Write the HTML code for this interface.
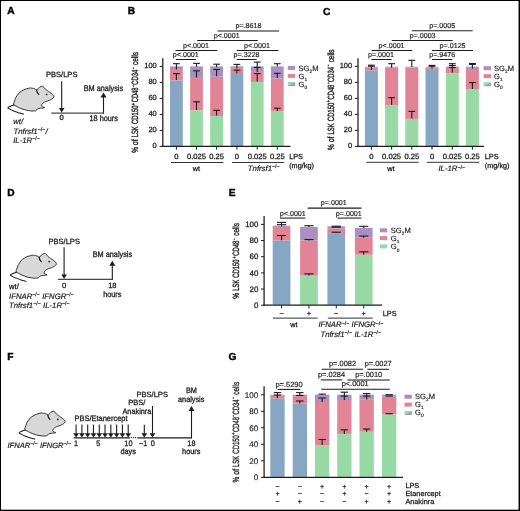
<!DOCTYPE html>
<html><head><meta charset="utf-8"><title>Figure</title>
<style>html,body{margin:0;padding:0;background:#fff;}svg{display:block;}text{font-family:"Liberation Sans",sans-serif;fill:#1c1c1c;stroke:#1c1c1c;stroke-width:0.27px;text-rendering:geometricPrecision;}</style></head><body>
<svg width="520" height="511" viewBox="0 0 520 511">
<rect x="0" y="0" width="520" height="511" fill="#fff"/>
<rect x="0" y="0" width="520" height="1" fill="#000"/>
<rect x="0" y="0" width="1" height="511" fill="#000"/>
<rect x="518.55" y="0" width="1.45" height="511" fill="#000"/>
<rect x="0" y="509.7" width="520" height="1.3" fill="#000"/>
<defs><filter id="soft" x="0" y="0" width="520" height="511" filterUnits="userSpaceOnUse"><feGaussianBlur stdDeviation="0.33"/></filter></defs>
<g filter="url(#soft)">
<text x="7.25" y="14.4" font-size="10.2" text-anchor="start" font-weight="bold" style="fill:#000;stroke:#000;stroke-width:0.45px">A</text>
<text x="127.65" y="14.4" font-size="10.2" text-anchor="start" font-weight="bold" style="fill:#000;stroke:#000;stroke-width:0.45px">B</text>
<text x="322.95" y="14.6" font-size="10.2" text-anchor="start" font-weight="bold" style="fill:#000;stroke:#000;stroke-width:0.45px">C</text>
<text x="7.25" y="195.9" font-size="10.2" text-anchor="start" font-weight="bold" style="fill:#000;stroke:#000;stroke-width:0.45px">D</text>
<text x="228.85" y="195.6" font-size="10.2" text-anchor="start" font-weight="bold" style="fill:#000;stroke:#000;stroke-width:0.45px">E</text>
<text x="7.25" y="359.7" font-size="10.2" text-anchor="start" font-weight="bold" style="fill:#000;stroke:#000;stroke-width:0.45px">F</text>
<text x="228.55" y="359.7" font-size="10.2" text-anchor="start" font-weight="bold" style="fill:#000;stroke:#000;stroke-width:0.45px">G</text>
<g transform="translate(0,0)">
<path d="M41.90,86.30 C42.95,86.19 42.63,86.39 43.40,86.90 C44.16,87.41 44.01,87.42 44.60,88.10 C45.20,88.78 44.73,88.59 45.50,89.30 C46.27,90.01 46.20,89.81 47.30,90.60 C48.40,91.39 47.98,91.02 49.40,92.10 C50.82,93.18 51.05,93.27 52.30,94.40 C53.55,95.53 53.46,95.19 53.80,96.10 C54.14,97.01 54.07,96.78 53.50,97.60 C52.93,98.42 53.10,98.18 51.80,99.00 C50.50,99.82 50.71,99.73 48.90,100.50 C47.09,101.27 47.04,100.96 45.40,101.70 C43.76,102.44 44.15,102.22 43.10,103.10 C42.05,103.98 42.04,103.86 41.70,104.80 C41.36,105.73 41.48,105.78 41.90,106.40 C42.32,107.02 42.44,106.63 43.20,107.00 C43.97,107.37 44.77,107.39 44.60,107.70 C44.43,108.01 43.79,107.93 42.60,108.10 C41.41,108.27 41.76,108.10 40.40,108.30 C39.04,108.50 38.93,108.29 37.80,108.80 C36.67,109.31 37.36,109.50 36.40,110.10 C35.44,110.69 36.58,110.76 34.40,110.90 C32.22,111.04 32.27,111.19 28.70,110.60 C25.13,110.00 25.43,110.10 21.80,108.80 C18.17,107.50 18.17,107.13 15.90,106.00 C13.63,104.87 14.17,106.27 13.80,104.80 C13.43,103.33 13.66,103.41 14.60,100.80 C15.54,98.19 15.06,98.38 17.10,95.60 C19.14,92.82 18.51,93.07 21.80,91.00 C25.09,88.93 25.81,89.09 28.70,88.30 C31.59,87.51 30.33,88.06 32.00,88.20 C33.67,88.34 33.21,88.29 34.60,88.80 C35.99,89.31 35.88,90.06 36.90,90.00 C37.92,89.94 37.41,89.36 38.20,88.60 C38.99,87.83 38.65,87.95 39.70,87.30 C40.75,86.65 40.85,86.41 41.90,86.30 Z" fill="#d8d8d9" stroke="#1c1c1c" stroke-width="0.9" stroke-linejoin="round"/>
<path d="M13.80,104.90 C13.05,105.23 11.98,105.62 10.60,106.30 C9.22,106.98 7.95,107.08 7.90,107.80 C7.85,108.52 9.05,108.68 10.40,109.40 C11.75,110.12 11.81,110.13 13.70,110.90 C15.59,111.67 16.21,111.95 18.50,112.70 C20.79,113.45 22.33,113.77 23.50,114.10" fill="none" stroke="#1c1c1c" stroke-width="1.05" stroke-linecap="round" stroke-linejoin="round"/>
<path d="M36.6,90.0 C36.7,91.6 37.5,93.2 38.8,94.4" fill="none" stroke="#161616" stroke-width="1.2" stroke-linecap="round"/>
<circle cx="46.6" cy="94.4" r="0.85" fill="#1a1a1a"/>
</g>
<text x="61.7" y="77.2" font-size="7.55" text-anchor="middle">PBS/LPS</text>
<line x1="61.7" y1="81.3" x2="61.7" y2="108.6" stroke="#1c1c1c" stroke-width="1.1"/>
<polygon points="58.9,108.1 64.5,108.1 61.7,112.6" fill="#1c1c1c"/>
<line x1="51.3" y1="113.1" x2="104" y2="113.1" stroke="#1c1c1c" stroke-width="1"/>
<line x1="103.5" y1="113.5" x2="103.5" y2="97" stroke="#1c1c1c" stroke-width="1.1"/>
<polygon points="100.5,97.5 106.5,97.5 103.5,92.5" fill="#1c1c1c"/>
<text transform="translate(103.4,91.2) scale(1,1.13)" font-size="7.3" text-anchor="middle">BM analysis</text>
<text x="61.7" y="120.4" font-size="7.6" text-anchor="middle">0</text>
<text transform="translate(103.7,120.7) scale(1,1.13)" font-size="7.3" text-anchor="middle">18 hours</text>
<text x="13.2" y="123.6" font-size="7.75" text-anchor="start" font-style="italic" style="stroke-width:0.2px">wt/</text>
<text x="13.5" y="133.7" font-size="7.75" text-anchor="start" font-style="italic" style="stroke-width:0.2px">Tnfrsf1<tspan font-size="5.3" dy="-2.7" font-style="normal">−/−</tspan><tspan dy="2.7" font-size="1"> </tspan>/</text>
<text x="13.2" y="142.9" font-size="7.75" text-anchor="start" font-style="italic" style="stroke-width:0.2px">IL-1R<tspan font-size="5.3" dy="-2.7" font-style="normal">−/−</tspan><tspan dy="2.7" font-size="1"> </tspan></text>
<g transform="translate(2.5,167.2)">
<path d="M41.90,86.30 C42.95,86.19 42.63,86.39 43.40,86.90 C44.16,87.41 44.01,87.42 44.60,88.10 C45.20,88.78 44.73,88.59 45.50,89.30 C46.27,90.01 46.20,89.81 47.30,90.60 C48.40,91.39 47.98,91.02 49.40,92.10 C50.82,93.18 51.05,93.27 52.30,94.40 C53.55,95.53 53.46,95.19 53.80,96.10 C54.14,97.01 54.07,96.78 53.50,97.60 C52.93,98.42 53.10,98.18 51.80,99.00 C50.50,99.82 50.71,99.73 48.90,100.50 C47.09,101.27 47.04,100.96 45.40,101.70 C43.76,102.44 44.15,102.22 43.10,103.10 C42.05,103.98 42.04,103.86 41.70,104.80 C41.36,105.73 41.48,105.78 41.90,106.40 C42.32,107.02 42.44,106.63 43.20,107.00 C43.97,107.37 44.77,107.39 44.60,107.70 C44.43,108.01 43.79,107.93 42.60,108.10 C41.41,108.27 41.76,108.10 40.40,108.30 C39.04,108.50 38.93,108.29 37.80,108.80 C36.67,109.31 37.36,109.50 36.40,110.10 C35.44,110.69 36.58,110.76 34.40,110.90 C32.22,111.04 32.27,111.19 28.70,110.60 C25.13,110.00 25.43,110.10 21.80,108.80 C18.17,107.50 18.17,107.13 15.90,106.00 C13.63,104.87 14.17,106.27 13.80,104.80 C13.43,103.33 13.66,103.41 14.60,100.80 C15.54,98.19 15.06,98.38 17.10,95.60 C19.14,92.82 18.51,93.07 21.80,91.00 C25.09,88.93 25.81,89.09 28.70,88.30 C31.59,87.51 30.33,88.06 32.00,88.20 C33.67,88.34 33.21,88.29 34.60,88.80 C35.99,89.31 35.88,90.06 36.90,90.00 C37.92,89.94 37.41,89.36 38.20,88.60 C38.99,87.83 38.65,87.95 39.70,87.30 C40.75,86.65 40.85,86.41 41.90,86.30 Z" fill="#d8d8d9" stroke="#1c1c1c" stroke-width="0.9" stroke-linejoin="round"/>
<path d="M13.80,104.90 C13.05,105.23 11.98,105.62 10.60,106.30 C9.22,106.98 7.95,107.08 7.90,107.80 C7.85,108.52 9.05,108.68 10.40,109.40 C11.75,110.12 11.81,110.13 13.70,110.90 C15.59,111.67 16.21,111.95 18.50,112.70 C20.79,113.45 22.33,113.77 23.50,114.10" fill="none" stroke="#1c1c1c" stroke-width="1.05" stroke-linecap="round" stroke-linejoin="round"/>
<path d="M36.6,90.0 C36.7,91.6 37.5,93.2 38.8,94.4" fill="none" stroke="#161616" stroke-width="1.2" stroke-linecap="round"/>
<circle cx="46.6" cy="94.4" r="0.85" fill="#1a1a1a"/>
</g>
<text x="64.2" y="244.4" font-size="7.55" text-anchor="middle">PBS/LPS</text>
<line x1="64.1" y1="247.2" x2="64.1" y2="275" stroke="#1c1c1c" stroke-width="1.1"/>
<polygon points="61.3,274.5 66.9,274.5 64.1,279" fill="#1c1c1c"/>
<line x1="57.9" y1="279.3" x2="112.8" y2="279.3" stroke="#1c1c1c" stroke-width="1"/>
<line x1="112.3" y1="279.7" x2="112.3" y2="265.3" stroke="#1c1c1c" stroke-width="1.1"/>
<polygon points="109.3,265.8 115.3,265.8 112.3,260.8" fill="#1c1c1c"/>
<text transform="translate(112.4,257.2) scale(1,1.12)" font-size="7.3" text-anchor="middle">BM analysis</text>
<text x="64.1" y="287.5" font-size="7.5" text-anchor="middle">0</text>
<text x="112.3" y="287.5" font-size="7.5" text-anchor="middle">18</text>
<text transform="translate(112.3,297) scale(1,1.1)" font-size="7.3" text-anchor="middle">hours</text>
<text x="9.1" y="289" font-size="7.6" text-anchor="start">wt/</text>
<text x="9" y="298.5" font-size="7.75" text-anchor="start" font-style="italic" style="stroke-width:0.2px">IFNAR<tspan font-size="5.3" dy="-2.7" font-style="normal">−/−</tspan><tspan dy="2.7" font-size="1"> </tspan> IFNGR<tspan font-size="5.3" dy="-2.7" font-style="normal">−/−</tspan><tspan dy="2.7" font-size="1"> </tspan></text>
<text x="9" y="307.9" font-size="7.75" text-anchor="start" font-style="italic" style="stroke-width:0.2px">Tnfrsf1<tspan font-size="5.3" dy="-2.7" font-style="normal">−/−</tspan><tspan dy="2.7" font-size="1"> </tspan> IL-1R<tspan font-size="5.3" dy="-2.7" font-style="normal">−/−</tspan><tspan dy="2.7" font-size="1"> </tspan></text>
<g transform="translate(11.2,325)">
<path d="M41.90,86.30 C42.95,86.19 42.63,86.39 43.40,86.90 C44.16,87.41 44.01,87.42 44.60,88.10 C45.20,88.78 44.73,88.59 45.50,89.30 C46.27,90.01 46.20,89.81 47.30,90.60 C48.40,91.39 47.98,91.02 49.40,92.10 C50.82,93.18 51.05,93.27 52.30,94.40 C53.55,95.53 53.46,95.19 53.80,96.10 C54.14,97.01 54.07,96.78 53.50,97.60 C52.93,98.42 53.10,98.18 51.80,99.00 C50.50,99.82 50.71,99.73 48.90,100.50 C47.09,101.27 47.04,100.96 45.40,101.70 C43.76,102.44 44.15,102.22 43.10,103.10 C42.05,103.98 42.04,103.86 41.70,104.80 C41.36,105.73 41.48,105.78 41.90,106.40 C42.32,107.02 42.44,106.63 43.20,107.00 C43.97,107.37 44.77,107.39 44.60,107.70 C44.43,108.01 43.79,107.93 42.60,108.10 C41.41,108.27 41.76,108.10 40.40,108.30 C39.04,108.50 38.93,108.29 37.80,108.80 C36.67,109.31 37.36,109.50 36.40,110.10 C35.44,110.69 36.58,110.76 34.40,110.90 C32.22,111.04 32.27,111.19 28.70,110.60 C25.13,110.00 25.43,110.10 21.80,108.80 C18.17,107.50 18.17,107.13 15.90,106.00 C13.63,104.87 14.17,106.27 13.80,104.80 C13.43,103.33 13.66,103.41 14.60,100.80 C15.54,98.19 15.06,98.38 17.10,95.60 C19.14,92.82 18.51,93.07 21.80,91.00 C25.09,88.93 25.81,89.09 28.70,88.30 C31.59,87.51 30.33,88.06 32.00,88.20 C33.67,88.34 33.21,88.29 34.60,88.80 C35.99,89.31 35.88,90.06 36.90,90.00 C37.92,89.94 37.41,89.36 38.20,88.60 C38.99,87.83 38.65,87.95 39.70,87.30 C40.75,86.65 40.85,86.41 41.90,86.30 Z" fill="#d8d8d9" stroke="#1c1c1c" stroke-width="0.9" stroke-linejoin="round"/>
<path d="M13.80,104.90 C13.05,105.23 11.98,105.62 10.60,106.30 C9.22,106.98 7.95,107.08 7.90,107.80 C7.85,108.52 9.05,108.68 10.40,109.40 C11.75,110.12 11.81,110.13 13.70,110.90 C15.59,111.67 16.21,111.95 18.50,112.70 C20.79,113.45 22.33,113.77 23.50,114.10" fill="none" stroke="#1c1c1c" stroke-width="1.05" stroke-linecap="round" stroke-linejoin="round"/>
<path d="M36.6,90.0 C36.7,91.6 37.5,93.2 38.8,94.4" fill="none" stroke="#161616" stroke-width="1.2" stroke-linecap="round"/>
<circle cx="46.6" cy="94.4" r="0.85" fill="#1a1a1a"/>
</g>
<text x="7.5" y="447.6" font-size="7.55" text-anchor="start" font-style="italic" style="stroke-width:0.2px">IFNAR<tspan font-size="5.3" dy="-2.7" font-style="normal">−/−</tspan><tspan dy="2.7" font-size="1"> </tspan> IFNGR<tspan font-size="5.3" dy="-2.7" font-style="normal">−/−</tspan><tspan dy="2.7" font-size="1"> </tspan></text>
<text transform="translate(101,420.7) scale(1,1.06)" font-size="7.45" text-anchor="middle">PBS/Etanercept</text>
<line x1="76.1" y1="424.6" x2="76.1" y2="433.7" stroke="#1c1c1c" stroke-width="1.1"/>
<polygon points="73.2,433.2 79,433.2 76.1,437.6" fill="#1c1c1c"/>
<line x1="81.89" y1="424.6" x2="81.89" y2="433.7" stroke="#1c1c1c" stroke-width="1.1"/>
<polygon points="78.99,433.2 84.79,433.2 81.89,437.6" fill="#1c1c1c"/>
<line x1="87.68" y1="424.6" x2="87.68" y2="433.7" stroke="#1c1c1c" stroke-width="1.1"/>
<polygon points="84.78,433.2 90.58,433.2 87.68,437.6" fill="#1c1c1c"/>
<line x1="93.47" y1="424.6" x2="93.47" y2="433.7" stroke="#1c1c1c" stroke-width="1.1"/>
<polygon points="90.57,433.2 96.37,433.2 93.47,437.6" fill="#1c1c1c"/>
<line x1="99.26" y1="424.6" x2="99.26" y2="433.7" stroke="#1c1c1c" stroke-width="1.1"/>
<polygon points="96.36,433.2 102.16,433.2 99.26,437.6" fill="#1c1c1c"/>
<line x1="105.05" y1="424.6" x2="105.05" y2="433.7" stroke="#1c1c1c" stroke-width="1.1"/>
<polygon points="102.15,433.2 107.95,433.2 105.05,437.6" fill="#1c1c1c"/>
<line x1="110.84" y1="424.6" x2="110.84" y2="433.7" stroke="#1c1c1c" stroke-width="1.1"/>
<polygon points="107.94,433.2 113.74,433.2 110.84,437.6" fill="#1c1c1c"/>
<line x1="116.63" y1="424.6" x2="116.63" y2="433.7" stroke="#1c1c1c" stroke-width="1.1"/>
<polygon points="113.73,433.2 119.53,433.2 116.63,437.6" fill="#1c1c1c"/>
<line x1="122.42" y1="424.6" x2="122.42" y2="433.7" stroke="#1c1c1c" stroke-width="1.1"/>
<polygon points="119.52,433.2 125.32,433.2 122.42,437.6" fill="#1c1c1c"/>
<line x1="128.21" y1="424.6" x2="128.21" y2="433.7" stroke="#1c1c1c" stroke-width="1.1"/>
<polygon points="125.31,433.2 131.11,433.2 128.21,437.6" fill="#1c1c1c"/>
<line x1="73.8" y1="437.8" x2="130.2" y2="437.8" stroke="#1c1c1c" stroke-width="1.3"/>
<circle cx="131.6" cy="437.7" r="0.62" fill="#1c1c1c"/>
<circle cx="133.6" cy="437.7" r="0.62" fill="#1c1c1c"/>
<circle cx="135.6" cy="437.7" r="0.62" fill="#1c1c1c"/>
<line x1="137.4" y1="437.8" x2="192" y2="437.8" stroke="#1c1c1c" stroke-width="1.3"/>
<line x1="144.3" y1="424.8" x2="144.3" y2="433.7" stroke="#1c1c1c" stroke-width="1.1"/>
<polygon points="141.4,433.2 147.2,433.2 144.3,437.6" fill="#1c1c1c"/>
<line x1="152.5" y1="406" x2="152.5" y2="433.7" stroke="#1c1c1c" stroke-width="1.1"/>
<polygon points="149.6,433.2 155.4,433.2 152.5,437.6" fill="#1c1c1c"/>
<line x1="191.5" y1="438.2" x2="191.5" y2="410.5" stroke="#1c1c1c" stroke-width="1.1"/>
<polygon points="188.5,411 194.5,411 191.5,406" fill="#1c1c1c"/>
<text x="152.2" y="397.4" font-size="7.55" text-anchor="middle">PBS/LPS</text>
<text x="136.8" y="405.4" font-size="7.55" text-anchor="middle">PBS/</text>
<text transform="translate(136.9,414.1) scale(1,1.08)" font-size="7.3" text-anchor="middle">Anakinra</text>
<text transform="translate(191.4,392.8) scale(1,1.08)" font-size="7.3" text-anchor="middle">BM</text>
<text transform="translate(191.2,401.9) scale(1,1.1)" font-size="7.3" text-anchor="middle">analysis</text>
<text transform="translate(76.1,446.2) scale(1,1.08)" font-size="7.3" text-anchor="middle">1</text>
<text transform="translate(98.4,446.2) scale(1,1.08)" font-size="7.3" text-anchor="middle">5</text>
<text transform="translate(128.4,446.2) scale(1,1.08)" font-size="7.3" text-anchor="middle">10</text>
<text transform="translate(128.2,454.4) scale(1,1.08)" font-size="7.3" text-anchor="middle">days</text>
<text transform="translate(143.2,446.2) scale(1,1.08)" font-size="7.3" text-anchor="middle">−1</text>
<text transform="translate(152.8,446.2) scale(1,1.08)" font-size="7.3" text-anchor="middle">0</text>
<text transform="translate(191.4,446.2) scale(1,1.08)" font-size="7.3" text-anchor="middle">18</text>
<text transform="translate(191.2,454.4) scale(1,1.08)" font-size="7.3" text-anchor="middle">hours</text>
<g transform="translate(138.45,152.8) rotate(-90)" style="stroke-width:0.38px">
<text x="0" y="0" font-size="9" style="stroke-width:0.38px" textLength="5.64" lengthAdjust="spacingAndGlyphs">%</text>
<text x="7.65" y="0" font-size="9" style="stroke-width:0.38px" textLength="5.84" lengthAdjust="spacingAndGlyphs">of</text>
<text x="15.51" y="0" font-size="9" style="stroke-width:0.38px" textLength="11.08" lengthAdjust="spacingAndGlyphs">LSK</text>
<text x="28.8" y="0" font-size="9" style="stroke-width:0.38px" textLength="18.53" lengthAdjust="spacingAndGlyphs">CD150</text>
<text x="47.63" y="-3.4" font-size="5.4" style="stroke-width:0.38px" textLength="2.22" lengthAdjust="spacingAndGlyphs">+</text>
<text x="50.55" y="0" font-size="9" style="stroke-width:0.38px" textLength="14.8" lengthAdjust="spacingAndGlyphs">CD48</text>
<text x="65.76" y="-3.4" font-size="5.4" style="stroke-width:0.38px" textLength="2.01" lengthAdjust="spacingAndGlyphs">−</text>
<text x="67.97" y="0" font-size="9" style="stroke-width:0.38px" textLength="15" lengthAdjust="spacingAndGlyphs">CD34</text>
<text x="83.48" y="-3.4" font-size="5.4" style="stroke-width:0.38px" textLength="2.01" lengthAdjust="spacingAndGlyphs">−</text>
<text x="87.71" y="0" font-size="9" style="stroke-width:0.38px" textLength="12.99" lengthAdjust="spacingAndGlyphs">cells</text>
</g>
<rect x="170" y="80.4" width="12.8" height="65.6" fill="#86a6c4"/>
<rect x="170" y="69.9" width="12.8" height="10.5" fill="#e18495"/>
<rect x="170" y="66.4" width="12.8" height="3.5" fill="#a990c1"/>
<rect x="190.1" y="110.3" width="12.8" height="35.7" fill="#98d9a6"/>
<rect x="190.1" y="78.1" width="12.8" height="32.2" fill="#e18495"/>
<rect x="190.1" y="66.4" width="12.8" height="11.7" fill="#a990c1"/>
<rect x="210.2" y="116" width="12.8" height="30" fill="#98d9a6"/>
<rect x="210.2" y="76.7" width="12.8" height="39.3" fill="#e18495"/>
<rect x="210.2" y="66.4" width="12.8" height="10.3" fill="#a990c1"/>
<rect x="230.5" y="74" width="12.8" height="72" fill="#86a6c4"/>
<rect x="230.5" y="68.2" width="12.8" height="5.8" fill="#e18495"/>
<rect x="230.5" y="66.4" width="12.8" height="1.8" fill="#a990c1"/>
<rect x="250.8" y="81.9" width="12.8" height="64.1" fill="#98d9a6"/>
<rect x="250.8" y="71.9" width="12.8" height="10" fill="#e18495"/>
<rect x="250.8" y="66.4" width="12.8" height="5.5" fill="#a990c1"/>
<rect x="270.9" y="111.4" width="12.8" height="34.6" fill="#98d9a6"/>
<rect x="270.9" y="78.5" width="12.8" height="32.9" fill="#e18495"/>
<rect x="270.9" y="66.4" width="12.8" height="12.1" fill="#a990c1"/>
<line x1="162.8" y1="58.3" x2="162.8" y2="147" stroke="#1c1c1c" stroke-width="1.25"/>
<line x1="162.2" y1="146.4" x2="290.4" y2="146.4" stroke="#1c1c1c" stroke-width="1.25"/>
<line x1="159.7" y1="146.4" x2="162.8" y2="146.4" stroke="#1c1c1c" stroke-width="1"/>
<text x="156.7" y="148.25" font-size="7.45" text-anchor="end">0</text>
<line x1="159.7" y1="130.4" x2="162.8" y2="130.4" stroke="#1c1c1c" stroke-width="1"/>
<text x="156.7" y="132.25" font-size="7.45" text-anchor="end">20</text>
<line x1="159.7" y1="114.4" x2="162.8" y2="114.4" stroke="#1c1c1c" stroke-width="1"/>
<text x="156.7" y="116.25" font-size="7.45" text-anchor="end">40</text>
<line x1="159.7" y1="98.4" x2="162.8" y2="98.4" stroke="#1c1c1c" stroke-width="1"/>
<text x="156.7" y="100.25" font-size="7.45" text-anchor="end">60</text>
<line x1="159.7" y1="82.4" x2="162.8" y2="82.4" stroke="#1c1c1c" stroke-width="1"/>
<text x="156.7" y="84.25" font-size="7.45" text-anchor="end">80</text>
<line x1="159.7" y1="66.4" x2="162.8" y2="66.4" stroke="#1c1c1c" stroke-width="1"/>
<text x="156.7" y="68.25" font-size="7.45" text-anchor="end">100</text>
<line x1="176.4" y1="146.4" x2="176.4" y2="149.6" stroke="#1c1c1c" stroke-width="1"/>
<line x1="196.5" y1="146.4" x2="196.5" y2="149.6" stroke="#1c1c1c" stroke-width="1"/>
<line x1="216.6" y1="146.4" x2="216.6" y2="149.6" stroke="#1c1c1c" stroke-width="1"/>
<line x1="236.9" y1="146.4" x2="236.9" y2="149.6" stroke="#1c1c1c" stroke-width="1"/>
<line x1="257.2" y1="146.4" x2="257.2" y2="149.6" stroke="#1c1c1c" stroke-width="1"/>
<line x1="277.3" y1="146.4" x2="277.3" y2="149.6" stroke="#1c1c1c" stroke-width="1"/>
<line x1="173" y1="63.7" x2="179.8" y2="63.7" stroke="#1c1c1c" stroke-width="1.1"/>
<line x1="176.4" y1="63.7" x2="176.4" y2="69.4" stroke="#1c1c1c" stroke-width="1.1"/>
<line x1="173" y1="73.6" x2="179.8" y2="73.6" stroke="#1c1c1c" stroke-width="1.1"/>
<line x1="176.4" y1="73.6" x2="176.4" y2="80" stroke="#1c1c1c" stroke-width="1.1"/>
<line x1="193.1" y1="63.4" x2="199.9" y2="63.4" stroke="#1c1c1c" stroke-width="1.1"/>
<line x1="196.5" y1="63.4" x2="196.5" y2="66.8" stroke="#1c1c1c" stroke-width="1.1"/>
<line x1="193.1" y1="70.8" x2="199.9" y2="70.8" stroke="#1c1c1c" stroke-width="1.1"/>
<line x1="196.5" y1="70.8" x2="196.5" y2="77.6" stroke="#1c1c1c" stroke-width="1.1"/>
<line x1="193.1" y1="101.8" x2="199.9" y2="101.8" stroke="#1c1c1c" stroke-width="1.1"/>
<line x1="196.5" y1="101.8" x2="196.5" y2="110" stroke="#1c1c1c" stroke-width="1.1"/>
<line x1="213.2" y1="64.2" x2="220" y2="64.2" stroke="#1c1c1c" stroke-width="1.1"/>
<line x1="216.6" y1="64.2" x2="216.6" y2="67" stroke="#1c1c1c" stroke-width="1.1"/>
<line x1="213.2" y1="69.5" x2="220" y2="69.5" stroke="#1c1c1c" stroke-width="1.1"/>
<line x1="216.6" y1="69.5" x2="216.6" y2="76.2" stroke="#1c1c1c" stroke-width="1.1"/>
<line x1="213.2" y1="110.3" x2="220" y2="110.3" stroke="#1c1c1c" stroke-width="1.1"/>
<line x1="216.6" y1="110.3" x2="216.6" y2="115.6" stroke="#1c1c1c" stroke-width="1.1"/>
<line x1="233.5" y1="64.4" x2="240.3" y2="64.4" stroke="#1c1c1c" stroke-width="1.1"/>
<line x1="236.9" y1="64.4" x2="236.9" y2="68.6" stroke="#1c1c1c" stroke-width="1.1"/>
<line x1="233.5" y1="70.1" x2="240.3" y2="70.1" stroke="#1c1c1c" stroke-width="1.1"/>
<line x1="236.9" y1="70.1" x2="236.9" y2="73.6" stroke="#1c1c1c" stroke-width="1.1"/>
<line x1="253.8" y1="62.1" x2="260.6" y2="62.1" stroke="#1c1c1c" stroke-width="1.1"/>
<line x1="257.2" y1="62.1" x2="257.2" y2="72" stroke="#1c1c1c" stroke-width="1.1"/>
<line x1="253.8" y1="67.4" x2="260.6" y2="67.4" stroke="#1c1c1c" stroke-width="1.1"/>
<line x1="253.8" y1="73.6" x2="260.6" y2="73.6" stroke="#1c1c1c" stroke-width="1.1"/>
<line x1="257.2" y1="73.6" x2="257.2" y2="81.4" stroke="#1c1c1c" stroke-width="1.1"/>
<line x1="273.9" y1="63.7" x2="280.7" y2="63.7" stroke="#1c1c1c" stroke-width="1.1"/>
<line x1="277.3" y1="63.7" x2="277.3" y2="66.6" stroke="#1c1c1c" stroke-width="1.1"/>
<line x1="273.9" y1="73.3" x2="280.7" y2="73.3" stroke="#1c1c1c" stroke-width="1.1"/>
<line x1="277.3" y1="73.3" x2="277.3" y2="78.1" stroke="#1c1c1c" stroke-width="1.1"/>
<line x1="273.9" y1="108.2" x2="280.7" y2="108.2" stroke="#1c1c1c" stroke-width="1.1"/>
<line x1="277.3" y1="108.2" x2="277.3" y2="111.1" stroke="#1c1c1c" stroke-width="1.1"/>
<text x="248.5" y="28" font-size="7.15" text-anchor="middle" style="stroke-width:0.17px">p=.8618</text>
<line x1="217.6" y1="31" x2="279" y2="31" stroke="#1c1c1c" stroke-width="1.05"/>
<text x="226.7" y="37.6" font-size="7.15" text-anchor="middle" style="stroke-width:0.17px">p&lt;.0001</text>
<line x1="197.2" y1="40.4" x2="257.8" y2="40.4" stroke="#1c1c1c" stroke-width="1.05"/>
<text x="196" y="47.9" font-size="7.15" text-anchor="middle" style="stroke-width:0.17px">p&lt;.0001</text>
<line x1="175.5" y1="50.4" x2="217.2" y2="50.4" stroke="#1c1c1c" stroke-width="1.05"/>
<text x="257" y="47.9" font-size="7.15" text-anchor="middle" style="stroke-width:0.17px">p&lt;.0001</text>
<line x1="236.8" y1="50.4" x2="278.4" y2="50.4" stroke="#1c1c1c" stroke-width="1.05"/>
<text x="185.8" y="56.6" font-size="7.15" text-anchor="middle" style="stroke-width:0.17px">p&lt;.0001</text>
<line x1="175.8" y1="59.5" x2="195.8" y2="59.5" stroke="#1c1c1c" stroke-width="1.05"/>
<text x="246.6" y="56.6" font-size="7.15" text-anchor="middle" style="stroke-width:0.17px">p=.3228</text>
<line x1="236.8" y1="59.5" x2="256.6" y2="59.5" stroke="#1c1c1c" stroke-width="1.05"/>
<text x="176.4" y="158.9" font-size="7.6" text-anchor="middle">0</text>
<text x="196.5" y="158.9" font-size="7.6" text-anchor="middle">0.025</text>
<text x="216.6" y="158.9" font-size="7.6" text-anchor="middle">0.25</text>
<text x="236.9" y="158.9" font-size="7.6" text-anchor="middle">0</text>
<text x="257.2" y="158.9" font-size="7.6" text-anchor="middle">0.025</text>
<text x="277.3" y="158.9" font-size="7.6" text-anchor="middle">0.25</text>
<text x="289.2" y="158.8" font-size="7.3" text-anchor="start">LPS</text>
<text x="289.2" y="167.6" font-size="7.3" text-anchor="start">(mg/kg)</text>
<line x1="171" y1="162.5" x2="223.4" y2="162.5" stroke="#1c1c1c" stroke-width="0.9"/>
<line x1="232" y1="162.5" x2="284.2" y2="162.5" stroke="#1c1c1c" stroke-width="0.9"/>
<text x="196.3" y="170.6" font-size="7.3" text-anchor="middle">wt</text>
<text x="263.8" y="170.8" font-size="7.75" text-anchor="middle" font-style="italic" style="stroke-width:0.2px">Tnfrsf1<tspan font-size="5.3" dy="-2.7" font-style="normal">−/−</tspan><tspan dy="2.7" font-size="1"> </tspan></text>
<rect x="287.8" y="65.9" width="7.4" height="4" fill="#a990c1"/>
<rect x="287.8" y="73.9" width="7.4" height="4" fill="#e18495"/>
<polygon points="287.8,82 295.2,82 287.8,86" fill="#98d9a6"/>
<polygon points="295.2,82 295.2,86 287.8,86" fill="#86a6c4"/>
<text x="298.5" y="70.8" font-size="7.55" text-anchor="start" style="stroke-width:0.17px">SG<tspan font-size="4.8" dy="2.2" style="stroke-width:0.15px">2</tspan><tspan dy="-2.2" font-size="1"> </tspan>M</text>
<text x="298.5" y="78.6" font-size="7.55" text-anchor="start" style="stroke-width:0.17px">G<tspan font-size="4.8" dy="2.2" style="stroke-width:0.15px">1</tspan><tspan dy="-2.2" font-size="1"> </tspan></text>
<text x="298.5" y="86.8" font-size="7.55" text-anchor="start" style="stroke-width:0.17px">G<tspan font-size="4.8" dy="2.2" style="stroke-width:0.15px">0</tspan><tspan dy="-2.2" font-size="1"> </tspan></text>
<g transform="translate(333.65,149.9) rotate(-90)" style="stroke-width:0.38px">
<text x="0" y="0" font-size="9" style="stroke-width:0.38px" textLength="5.63" lengthAdjust="spacingAndGlyphs">%</text>
<text x="7.64" y="0" font-size="9" style="stroke-width:0.38px" textLength="5.83" lengthAdjust="spacingAndGlyphs">of</text>
<text x="15.48" y="0" font-size="9" style="stroke-width:0.38px" textLength="11.06" lengthAdjust="spacingAndGlyphs">LSK</text>
<text x="28.74" y="0" font-size="9" style="stroke-width:0.38px" textLength="18.49" lengthAdjust="spacingAndGlyphs">CD150</text>
<text x="47.54" y="-3.4" font-size="5.4" style="stroke-width:0.38px" textLength="2.21" lengthAdjust="spacingAndGlyphs">+</text>
<text x="50.45" y="0" font-size="9" style="stroke-width:0.38px" textLength="14.77" lengthAdjust="spacingAndGlyphs">CD48</text>
<text x="65.63" y="-3.4" font-size="5.4" style="stroke-width:0.38px" textLength="2.01" lengthAdjust="spacingAndGlyphs">−</text>
<text x="67.84" y="0" font-size="9" style="stroke-width:0.38px" textLength="14.97" lengthAdjust="spacingAndGlyphs">CD34</text>
<text x="83.31" y="-3.4" font-size="5.4" style="stroke-width:0.38px" textLength="2.01" lengthAdjust="spacingAndGlyphs">−</text>
<text x="87.54" y="0" font-size="9" style="stroke-width:0.38px" textLength="12.96" lengthAdjust="spacingAndGlyphs">cells</text>
</g>
<rect x="364.9" y="70.3" width="13" height="75.7" fill="#86a6c4"/>
<rect x="364.9" y="67.5" width="13" height="2.8" fill="#e18495"/>
<rect x="364.9" y="66.7" width="13" height="0.8" fill="#a990c1"/>
<rect x="385.1" y="105.1" width="13" height="40.9" fill="#98d9a6"/>
<rect x="385.1" y="67.5" width="13" height="37.6" fill="#e18495"/>
<rect x="385.1" y="66.7" width="13" height="0.8" fill="#a990c1"/>
<rect x="405.3" y="118.9" width="13" height="27.1" fill="#98d9a6"/>
<rect x="405.3" y="67.5" width="13" height="51.4" fill="#e18495"/>
<rect x="405.3" y="66.7" width="13" height="0.8" fill="#a990c1"/>
<rect x="425.5" y="68.9" width="13" height="77.1" fill="#86a6c4"/>
<rect x="425.5" y="67.3" width="13" height="1.6" fill="#e18495"/>
<rect x="425.5" y="66.8" width="13" height="0.5" fill="#a990c1"/>
<rect x="445.8" y="73.3" width="13" height="72.7" fill="#98d9a6"/>
<rect x="445.8" y="68.1" width="13" height="5.2" fill="#e18495"/>
<rect x="445.8" y="66.7" width="13" height="1.4" fill="#a990c1"/>
<rect x="465.9" y="89.5" width="13" height="56.5" fill="#98d9a6"/>
<rect x="465.9" y="68.9" width="13" height="20.6" fill="#e18495"/>
<rect x="465.9" y="66.7" width="13" height="2.2" fill="#a990c1"/>
<line x1="358" y1="58.3" x2="358" y2="147" stroke="#1c1c1c" stroke-width="1.25"/>
<line x1="357.4" y1="146.4" x2="484" y2="146.4" stroke="#1c1c1c" stroke-width="1.25"/>
<line x1="354.9" y1="146.4" x2="358" y2="146.4" stroke="#1c1c1c" stroke-width="1"/>
<text x="352.1" y="148.25" font-size="7.45" text-anchor="end">0</text>
<line x1="354.9" y1="130.4" x2="358" y2="130.4" stroke="#1c1c1c" stroke-width="1"/>
<text x="352.1" y="132.25" font-size="7.45" text-anchor="end">20</text>
<line x1="354.9" y1="114.4" x2="358" y2="114.4" stroke="#1c1c1c" stroke-width="1"/>
<text x="352.1" y="116.25" font-size="7.45" text-anchor="end">40</text>
<line x1="354.9" y1="98.4" x2="358" y2="98.4" stroke="#1c1c1c" stroke-width="1"/>
<text x="352.1" y="100.25" font-size="7.45" text-anchor="end">60</text>
<line x1="354.9" y1="82.4" x2="358" y2="82.4" stroke="#1c1c1c" stroke-width="1"/>
<text x="352.1" y="84.25" font-size="7.45" text-anchor="end">80</text>
<line x1="354.9" y1="66.4" x2="358" y2="66.4" stroke="#1c1c1c" stroke-width="1"/>
<text x="352.1" y="68.25" font-size="7.45" text-anchor="end">100</text>
<line x1="371.4" y1="146.4" x2="371.4" y2="149.6" stroke="#1c1c1c" stroke-width="1"/>
<line x1="391.6" y1="146.4" x2="391.6" y2="149.6" stroke="#1c1c1c" stroke-width="1"/>
<line x1="411.8" y1="146.4" x2="411.8" y2="149.6" stroke="#1c1c1c" stroke-width="1"/>
<line x1="432" y1="146.4" x2="432" y2="149.6" stroke="#1c1c1c" stroke-width="1"/>
<line x1="452.3" y1="146.4" x2="452.3" y2="149.6" stroke="#1c1c1c" stroke-width="1"/>
<line x1="472.4" y1="146.4" x2="472.4" y2="149.6" stroke="#1c1c1c" stroke-width="1"/>
<line x1="368" y1="65.2" x2="374.8" y2="65.2" stroke="#1c1c1c" stroke-width="1.1"/>
<line x1="371.4" y1="65.2" x2="371.4" y2="69.9" stroke="#1c1c1c" stroke-width="1.1"/>
<line x1="368" y1="66.2" x2="374.8" y2="66.2" stroke="#1c1c1c" stroke-width="1.1"/>
<line x1="388.2" y1="63.7" x2="395" y2="63.7" stroke="#1c1c1c" stroke-width="1.1"/>
<line x1="391.6" y1="63.7" x2="391.6" y2="67.8" stroke="#1c1c1c" stroke-width="1.1"/>
<line x1="388.2" y1="97.7" x2="395" y2="97.7" stroke="#1c1c1c" stroke-width="1.1"/>
<line x1="391.6" y1="97.7" x2="391.6" y2="104.8" stroke="#1c1c1c" stroke-width="1.1"/>
<line x1="408.4" y1="60.3" x2="415.2" y2="60.3" stroke="#1c1c1c" stroke-width="1.1"/>
<line x1="411.8" y1="60.3" x2="411.8" y2="67.1" stroke="#1c1c1c" stroke-width="1.1"/>
<line x1="408.4" y1="111.4" x2="415.2" y2="111.4" stroke="#1c1c1c" stroke-width="1.1"/>
<line x1="411.8" y1="111.4" x2="411.8" y2="118.5" stroke="#1c1c1c" stroke-width="1.1"/>
<line x1="428.6" y1="65.4" x2="435.4" y2="65.4" stroke="#1c1c1c" stroke-width="1.1"/>
<line x1="432" y1="65.4" x2="432" y2="68.5" stroke="#1c1c1c" stroke-width="1.1"/>
<line x1="428.6" y1="66.3" x2="435.4" y2="66.3" stroke="#1c1c1c" stroke-width="1.1"/>
<line x1="448.9" y1="63.7" x2="455.7" y2="63.7" stroke="#1c1c1c" stroke-width="1.1"/>
<line x1="452.3" y1="63.7" x2="452.3" y2="72.6" stroke="#1c1c1c" stroke-width="1.1"/>
<line x1="448.9" y1="65.5" x2="455.7" y2="65.5" stroke="#1c1c1c" stroke-width="1.1"/>
<line x1="448.9" y1="67.5" x2="455.7" y2="67.5" stroke="#1c1c1c" stroke-width="1.1"/>
<line x1="469" y1="63.5" x2="475.8" y2="63.5" stroke="#1c1c1c" stroke-width="1.1"/>
<line x1="472.4" y1="63.5" x2="472.4" y2="68.5" stroke="#1c1c1c" stroke-width="1.1"/>
<line x1="469" y1="64.4" x2="475.8" y2="64.4" stroke="#1c1c1c" stroke-width="1.1"/>
<line x1="469" y1="82.6" x2="475.8" y2="82.6" stroke="#1c1c1c" stroke-width="1.1"/>
<line x1="472.4" y1="82.6" x2="472.4" y2="89" stroke="#1c1c1c" stroke-width="1.1"/>
<text x="442.2" y="28.4" font-size="7.15" text-anchor="middle" style="stroke-width:0.17px">p=.0005</text>
<line x1="411.8" y1="30.8" x2="472.6" y2="30.8" stroke="#1c1c1c" stroke-width="1.05"/>
<text x="422.6" y="38" font-size="7.15" text-anchor="middle" style="stroke-width:0.17px">p=.0003</text>
<line x1="391.8" y1="40.5" x2="452.6" y2="40.5" stroke="#1c1c1c" stroke-width="1.05"/>
<text x="391.6" y="48" font-size="7.15" text-anchor="middle" style="stroke-width:0.17px">p&lt;.0001</text>
<line x1="371.6" y1="50.4" x2="412.2" y2="50.4" stroke="#1c1c1c" stroke-width="1.05"/>
<text x="452.6" y="48" font-size="7.15" text-anchor="middle" style="stroke-width:0.17px">p=.0125</text>
<line x1="432" y1="50.4" x2="473" y2="50.4" stroke="#1c1c1c" stroke-width="1.05"/>
<text x="381" y="56.8" font-size="7.15" text-anchor="middle" style="stroke-width:0.17px">p=.0001</text>
<line x1="371.4" y1="59.5" x2="391.6" y2="59.5" stroke="#1c1c1c" stroke-width="1.05"/>
<text x="442.2" y="56.8" font-size="7.15" text-anchor="middle" style="stroke-width:0.17px">p=.9476</text>
<line x1="432" y1="59.5" x2="452.2" y2="59.5" stroke="#1c1c1c" stroke-width="1.05"/>
<text x="371.4" y="158.9" font-size="7.6" text-anchor="middle">0</text>
<text x="391.6" y="158.9" font-size="7.6" text-anchor="middle">0.025</text>
<text x="411.8" y="158.9" font-size="7.6" text-anchor="middle">0.25</text>
<text x="432" y="158.9" font-size="7.6" text-anchor="middle">0</text>
<text x="452.3" y="158.9" font-size="7.6" text-anchor="middle">0.025</text>
<text x="472.4" y="158.9" font-size="7.6" text-anchor="middle">0.25</text>
<text x="484.8" y="158.8" font-size="7.3" text-anchor="start">LPS</text>
<text x="484.8" y="167.8" font-size="7.3" text-anchor="start">(mg/kg)</text>
<line x1="366.3" y1="162.3" x2="418.6" y2="162.3" stroke="#1c1c1c" stroke-width="0.9"/>
<line x1="426.8" y1="162.3" x2="479.1" y2="162.3" stroke="#1c1c1c" stroke-width="0.9"/>
<text x="391" y="171" font-size="7.3" text-anchor="middle">wt</text>
<text x="451.8" y="171.2" font-size="7.75" text-anchor="middle" font-style="italic" style="stroke-width:0.2px">IL-1R<tspan font-size="5.3" dy="-2.7" font-style="normal">−/−</tspan><tspan dy="2.7" font-size="1"> </tspan></text>
<rect x="483.6" y="66.2" width="7.4" height="4" fill="#a990c1"/>
<rect x="483.6" y="74.1" width="7.4" height="4" fill="#e18495"/>
<polygon points="483.6,82.3 491,82.3 483.6,86.3" fill="#98d9a6"/>
<polygon points="491,82.3 491,86.3 483.6,86.3" fill="#86a6c4"/>
<text x="494" y="70.6" font-size="7.55" text-anchor="start" style="stroke-width:0.17px">SG<tspan font-size="4.8" dy="2.2" style="stroke-width:0.15px">2</tspan><tspan dy="-2.2" font-size="1"> </tspan>M</text>
<text x="494" y="78.5" font-size="7.55" text-anchor="start" style="stroke-width:0.17px">G<tspan font-size="4.8" dy="2.2" style="stroke-width:0.15px">1</tspan><tspan dy="-2.2" font-size="1"> </tspan></text>
<text x="494" y="86.9" font-size="7.55" text-anchor="start" style="stroke-width:0.17px">G<tspan font-size="4.8" dy="2.2" style="stroke-width:0.15px">0</tspan><tspan dy="-2.2" font-size="1"> </tspan></text>
<g transform="translate(239.3,298.8) rotate(-90)" style="stroke-width:0.38px">
<text x="0" y="0" font-size="9" style="stroke-width:0.38px" textLength="5.91" lengthAdjust="spacingAndGlyphs">%</text>
<text x="8.03" y="0" font-size="9" style="stroke-width:0.38px" textLength="11.07" lengthAdjust="spacingAndGlyphs">LSK</text>
<text x="21" y="0" font-size="9" style="stroke-width:0.38px" textLength="18.42" lengthAdjust="spacingAndGlyphs">CD150</text>
<text x="40.25" y="-3.4" font-size="5.4" style="stroke-width:0.38px" textLength="2.12" lengthAdjust="spacingAndGlyphs">+</text>
<text x="43.05" y="0" font-size="9" style="stroke-width:0.38px" textLength="15.08" lengthAdjust="spacingAndGlyphs">CD48</text>
<text x="58.67" y="-3.4" font-size="5.4" style="stroke-width:0.38px" textLength="1.82" lengthAdjust="spacingAndGlyphs">−</text>
<text x="62.99" y="0" font-size="9" style="stroke-width:0.38px" textLength="12.81" lengthAdjust="spacingAndGlyphs">cells</text>
</g>
<rect x="272.7" y="240.4" width="17.7" height="64.4" fill="#86a6c4"/>
<rect x="272.7" y="226.9" width="17.7" height="13.5" fill="#e18495"/>
<rect x="272.7" y="225.7" width="17.7" height="1.2" fill="#a990c1"/>
<rect x="300.1" y="275.6" width="17.7" height="29.2" fill="#98d9a6"/>
<rect x="300.1" y="240.4" width="17.7" height="35.2" fill="#e18495"/>
<rect x="300.1" y="226.9" width="17.7" height="13.5" fill="#a990c1"/>
<rect x="327.4" y="233.1" width="17.7" height="71.7" fill="#86a6c4"/>
<rect x="327.4" y="228.6" width="17.7" height="4.5" fill="#e18495"/>
<rect x="327.4" y="226.3" width="17.7" height="2.3" fill="#a990c1"/>
<rect x="354.9" y="254.7" width="17.7" height="50.1" fill="#98d9a6"/>
<rect x="354.9" y="237.7" width="17.7" height="17" fill="#e18495"/>
<rect x="354.9" y="227.9" width="17.7" height="9.8" fill="#a990c1"/>
<line x1="264.1" y1="216" x2="264.1" y2="305.8" stroke="#1c1c1c" stroke-width="1.25"/>
<line x1="263.5" y1="305.2" x2="382" y2="305.2" stroke="#1c1c1c" stroke-width="1.25"/>
<line x1="261" y1="305.2" x2="264.1" y2="305.2" stroke="#1c1c1c" stroke-width="1"/>
<text x="258.3" y="307.9" font-size="7.9" text-anchor="end">0</text>
<line x1="261" y1="289.04" x2="264.1" y2="289.04" stroke="#1c1c1c" stroke-width="1"/>
<text x="258.3" y="291.74" font-size="7.9" text-anchor="end">20</text>
<line x1="261" y1="272.88" x2="264.1" y2="272.88" stroke="#1c1c1c" stroke-width="1"/>
<text x="258.3" y="275.58" font-size="7.9" text-anchor="end">40</text>
<line x1="261" y1="256.72" x2="264.1" y2="256.72" stroke="#1c1c1c" stroke-width="1"/>
<text x="258.3" y="259.42" font-size="7.9" text-anchor="end">60</text>
<line x1="261" y1="240.56" x2="264.1" y2="240.56" stroke="#1c1c1c" stroke-width="1"/>
<text x="258.3" y="243.26" font-size="7.9" text-anchor="end">80</text>
<line x1="261" y1="224.4" x2="264.1" y2="224.4" stroke="#1c1c1c" stroke-width="1"/>
<text x="258.3" y="227.1" font-size="7.9" text-anchor="end">100</text>
<line x1="281.55" y1="305.2" x2="281.55" y2="308.4" stroke="#1c1c1c" stroke-width="1"/>
<line x1="308.95" y1="305.2" x2="308.95" y2="308.4" stroke="#1c1c1c" stroke-width="1"/>
<line x1="336.25" y1="305.2" x2="336.25" y2="308.4" stroke="#1c1c1c" stroke-width="1"/>
<line x1="363.75" y1="305.2" x2="363.75" y2="308.4" stroke="#1c1c1c" stroke-width="1"/>
<line x1="276.95" y1="222.4" x2="286.15" y2="222.4" stroke="#1c1c1c" stroke-width="1.1"/>
<line x1="281.55" y1="222.4" x2="281.55" y2="226.6" stroke="#1c1c1c" stroke-width="1.1"/>
<line x1="276.95" y1="224.7" x2="286.15" y2="224.7" stroke="#1c1c1c" stroke-width="1.1"/>
<line x1="276.95" y1="235.5" x2="286.15" y2="235.5" stroke="#1c1c1c" stroke-width="1.1"/>
<line x1="281.55" y1="235.5" x2="281.55" y2="240.2" stroke="#1c1c1c" stroke-width="1.1"/>
<line x1="304.35" y1="225.7" x2="313.55" y2="225.7" stroke="#1c1c1c" stroke-width="1.1"/>
<line x1="308.95" y1="225.7" x2="308.95" y2="227" stroke="#1c1c1c" stroke-width="1.1"/>
<line x1="304.35" y1="239.6" x2="313.55" y2="239.6" stroke="#1c1c1c" stroke-width="1.1"/>
<line x1="308.95" y1="239.6" x2="308.95" y2="240.4" stroke="#1c1c1c" stroke-width="1.1"/>
<line x1="304.35" y1="273.9" x2="313.55" y2="273.9" stroke="#1c1c1c" stroke-width="1.1"/>
<line x1="308.95" y1="273.9" x2="308.95" y2="275.6" stroke="#1c1c1c" stroke-width="1.1"/>
<line x1="331.65" y1="226.2" x2="340.85" y2="226.2" stroke="#1c1c1c" stroke-width="1.1"/>
<line x1="331.65" y1="227.2" x2="340.85" y2="227.2" stroke="#1c1c1c" stroke-width="1.1"/>
<line x1="331.65" y1="232.2" x2="340.85" y2="232.2" stroke="#1c1c1c" stroke-width="1.1"/>
<line x1="336.25" y1="232.2" x2="336.25" y2="233" stroke="#1c1c1c" stroke-width="1.1"/>
<line x1="359.15" y1="226.3" x2="368.35" y2="226.3" stroke="#1c1c1c" stroke-width="1.1"/>
<line x1="363.75" y1="226.3" x2="363.75" y2="228" stroke="#1c1c1c" stroke-width="1.1"/>
<line x1="359.15" y1="236.1" x2="368.35" y2="236.1" stroke="#1c1c1c" stroke-width="1.1"/>
<line x1="363.75" y1="236.1" x2="363.75" y2="237.7" stroke="#1c1c1c" stroke-width="1.1"/>
<line x1="359.15" y1="251.8" x2="368.35" y2="251.8" stroke="#1c1c1c" stroke-width="1.1"/>
<line x1="363.75" y1="251.8" x2="363.75" y2="254.7" stroke="#1c1c1c" stroke-width="1.1"/>
<text x="292.8" y="215.5" font-size="7.15" text-anchor="middle" style="stroke-width:0.17px">p&lt;.0001</text>
<line x1="280.2" y1="218.1" x2="305.4" y2="218.1" stroke="#1c1c1c" stroke-width="1.05"/>
<text x="333.8" y="204.8" font-size="7.15" text-anchor="middle" style="stroke-width:0.17px">p=.0001</text>
<line x1="307.8" y1="208.1" x2="361.4" y2="208.1" stroke="#1c1c1c" stroke-width="1.05"/>
<text x="348.8" y="215.5" font-size="7.15" text-anchor="middle" style="stroke-width:0.17px">p=.0001</text>
<line x1="337.4" y1="218.1" x2="361.4" y2="218.1" stroke="#1c1c1c" stroke-width="1.05"/>
<text x="281.55" y="316.2" font-size="7.3" text-anchor="middle">−</text>
<text x="308.95" y="316.2" font-size="7.3" text-anchor="middle">+</text>
<text x="336.25" y="316.2" font-size="7.3" text-anchor="middle">−</text>
<text x="363.75" y="316.2" font-size="7.3" text-anchor="middle">+</text>
<text x="382.8" y="315.9" font-size="7.3" text-anchor="start">LPS</text>
<line x1="272.9" y1="318.1" x2="317.6" y2="318.1" stroke="#1c1c1c" stroke-width="0.9"/>
<line x1="327.9" y1="318.1" x2="372.8" y2="318.1" stroke="#1c1c1c" stroke-width="0.9"/>
<text x="293.8" y="327" font-size="7.3" text-anchor="middle">wt</text>
<text x="350.9" y="327.2" font-size="7.75" text-anchor="middle" font-style="italic" style="stroke-width:0.2px">IFNAR<tspan font-size="5.3" dy="-2.7" font-style="normal">−/−</tspan><tspan dy="2.7" font-size="1"> </tspan> IFNGR<tspan font-size="5.3" dy="-2.7" font-style="normal">−/−</tspan><tspan dy="2.7" font-size="1"> </tspan></text>
<text x="350.8" y="336.9" font-size="7.75" text-anchor="middle" font-style="italic" style="stroke-width:0.2px">Tnfrsf1<tspan font-size="5.3" dy="-2.7" font-style="normal">−/−</tspan><tspan dy="2.7" font-size="1"> </tspan> IL-1R<tspan font-size="5.3" dy="-2.7" font-style="normal">−/−</tspan><tspan dy="2.7" font-size="1"> </tspan></text>
<rect x="379.8" y="228.3" width="7.4" height="4" fill="#a990c1"/>
<rect x="379.8" y="236.1" width="7.4" height="4" fill="#e18495"/>
<rect x="379.8" y="244.4" width="7.4" height="4" fill="#98d9a6"/>
<text x="390.8" y="232.9" font-size="7.55" text-anchor="start" style="stroke-width:0.17px">SG<tspan font-size="4.8" dy="2.2" style="stroke-width:0.15px">2</tspan><tspan dy="-2.2" font-size="1"> </tspan>M</text>
<text x="390.8" y="240.7" font-size="7.55" text-anchor="start" style="stroke-width:0.17px">G<tspan font-size="4.8" dy="2.2" style="stroke-width:0.15px">1</tspan><tspan dy="-2.2" font-size="1"> </tspan></text>
<text x="390.8" y="249.3" font-size="7.55" text-anchor="start" style="stroke-width:0.17px">G<tspan font-size="4.8" dy="2.2" style="stroke-width:0.15px">0</tspan><tspan dy="-2.2" font-size="1"> </tspan></text>
<g transform="translate(238.8,482.4) rotate(-90)" style="stroke-width:0.32px">
<text x="0" y="0" font-size="9" style="stroke-width:0.32px" textLength="5.63" lengthAdjust="spacingAndGlyphs">%</text>
<text x="7.65" y="0" font-size="9" style="stroke-width:0.32px" textLength="5.83" lengthAdjust="spacingAndGlyphs">of</text>
<text x="15.49" y="0" font-size="9" style="stroke-width:0.32px" textLength="11.07" lengthAdjust="spacingAndGlyphs">LSK</text>
<text x="28.77" y="0" font-size="9" style="stroke-width:0.32px" textLength="18.51" lengthAdjust="spacingAndGlyphs">CD150</text>
<text x="47.58" y="-3.4" font-size="5.4" style="stroke-width:0.32px" textLength="2.21" lengthAdjust="spacingAndGlyphs">+</text>
<text x="50.5" y="0" font-size="9" style="stroke-width:0.32px" textLength="14.79" lengthAdjust="spacingAndGlyphs">CD48</text>
<text x="65.69" y="-3.4" font-size="5.4" style="stroke-width:0.32px" textLength="2.01" lengthAdjust="spacingAndGlyphs">−</text>
<text x="67.91" y="0" font-size="9" style="stroke-width:0.32px" textLength="14.99" lengthAdjust="spacingAndGlyphs">CD34</text>
<text x="83.4" y="-3.4" font-size="5.4" style="stroke-width:0.32px" textLength="2.01" lengthAdjust="spacingAndGlyphs">−</text>
<text x="87.62" y="0" font-size="9" style="stroke-width:0.32px" textLength="12.98" lengthAdjust="spacingAndGlyphs">cells</text>
</g>
<rect x="270.3" y="398.4" width="14.3" height="78.5" fill="#86a6c4"/>
<rect x="270.3" y="395.7" width="14.3" height="2.7" fill="#e18495"/>
<rect x="270.3" y="394.7" width="14.3" height="1" fill="#a990c1"/>
<rect x="292.7" y="403.5" width="14.3" height="73.4" fill="#86a6c4"/>
<rect x="292.7" y="396.1" width="14.3" height="7.4" fill="#e18495"/>
<rect x="292.7" y="394.7" width="14.3" height="1.4" fill="#a990c1"/>
<rect x="315" y="445" width="14.3" height="31.9" fill="#98d9a6"/>
<rect x="315" y="402" width="14.3" height="43" fill="#e18495"/>
<rect x="315" y="394.7" width="14.3" height="7.3" fill="#a990c1"/>
<rect x="337.2" y="433.9" width="14.3" height="43" fill="#98d9a6"/>
<rect x="337.2" y="400" width="14.3" height="33.9" fill="#e18495"/>
<rect x="337.2" y="394.7" width="14.3" height="5.3" fill="#a990c1"/>
<rect x="359.5" y="431.7" width="14.3" height="45.2" fill="#98d9a6"/>
<rect x="359.5" y="399.6" width="14.3" height="32.1" fill="#e18495"/>
<rect x="359.5" y="394.7" width="14.3" height="4.9" fill="#a990c1"/>
<rect x="382" y="414.3" width="14.3" height="62.6" fill="#98d9a6"/>
<rect x="382" y="396.7" width="14.3" height="17.6" fill="#e18495"/>
<rect x="382" y="394.7" width="14.3" height="2" fill="#a990c1"/>
<line x1="264.1" y1="386.2" x2="264.1" y2="477.9" stroke="#1c1c1c" stroke-width="1.25"/>
<line x1="263.5" y1="477.3" x2="403" y2="477.3" stroke="#1c1c1c" stroke-width="1.25"/>
<line x1="261" y1="477.3" x2="264.1" y2="477.3" stroke="#1c1c1c" stroke-width="1"/>
<text x="258.2" y="480.15" font-size="8.1" text-anchor="end" style="stroke-width:0.14px">0</text>
<line x1="261" y1="460.8" x2="264.1" y2="460.8" stroke="#1c1c1c" stroke-width="1"/>
<text x="258.2" y="463.65" font-size="8.1" text-anchor="end" style="stroke-width:0.14px">20</text>
<line x1="261" y1="444.3" x2="264.1" y2="444.3" stroke="#1c1c1c" stroke-width="1"/>
<text x="258.2" y="447.15" font-size="8.1" text-anchor="end" style="stroke-width:0.14px">40</text>
<line x1="261" y1="427.8" x2="264.1" y2="427.8" stroke="#1c1c1c" stroke-width="1"/>
<text x="258.2" y="430.65" font-size="8.1" text-anchor="end" style="stroke-width:0.14px">60</text>
<line x1="261" y1="411.3" x2="264.1" y2="411.3" stroke="#1c1c1c" stroke-width="1"/>
<text x="258.2" y="414.15" font-size="8.1" text-anchor="end" style="stroke-width:0.14px">80</text>
<line x1="261" y1="394.8" x2="264.1" y2="394.8" stroke="#1c1c1c" stroke-width="1"/>
<text x="258.2" y="397.65" font-size="8.1" text-anchor="end" style="stroke-width:0.14px">100</text>
<line x1="273.75" y1="392.6" x2="281.15" y2="392.6" stroke="#1c1c1c" stroke-width="1.1"/>
<line x1="277.45" y1="392.6" x2="277.45" y2="395" stroke="#1c1c1c" stroke-width="1.1"/>
<line x1="273.75" y1="395.1" x2="281.15" y2="395.1" stroke="#1c1c1c" stroke-width="1.1"/>
<line x1="277.45" y1="395.1" x2="277.45" y2="398.2" stroke="#1c1c1c" stroke-width="1.1"/>
<line x1="296.15" y1="392.6" x2="303.55" y2="392.6" stroke="#1c1c1c" stroke-width="1.1"/>
<line x1="299.85" y1="392.6" x2="299.85" y2="395.5" stroke="#1c1c1c" stroke-width="1.1"/>
<line x1="296.15" y1="395.5" x2="303.55" y2="395.5" stroke="#1c1c1c" stroke-width="1.1"/>
<line x1="296.15" y1="401" x2="303.55" y2="401" stroke="#1c1c1c" stroke-width="1.1"/>
<line x1="299.85" y1="401" x2="299.85" y2="403.5" stroke="#1c1c1c" stroke-width="1.1"/>
<line x1="318.45" y1="394.1" x2="325.85" y2="394.1" stroke="#1c1c1c" stroke-width="1.1"/>
<line x1="322.15" y1="394.1" x2="322.15" y2="395" stroke="#1c1c1c" stroke-width="1.1"/>
<line x1="318.45" y1="398" x2="325.85" y2="398" stroke="#1c1c1c" stroke-width="1.1"/>
<line x1="322.15" y1="398" x2="322.15" y2="402" stroke="#1c1c1c" stroke-width="1.1"/>
<line x1="318.45" y1="439.5" x2="325.85" y2="439.5" stroke="#1c1c1c" stroke-width="1.1"/>
<line x1="322.15" y1="439.5" x2="322.15" y2="445" stroke="#1c1c1c" stroke-width="1.1"/>
<line x1="340.65" y1="392.2" x2="348.05" y2="392.2" stroke="#1c1c1c" stroke-width="1.1"/>
<line x1="344.35" y1="392.2" x2="344.35" y2="396.1" stroke="#1c1c1c" stroke-width="1.1"/>
<line x1="340.65" y1="396.1" x2="348.05" y2="396.1" stroke="#1c1c1c" stroke-width="1.1"/>
<line x1="344.35" y1="396.1" x2="344.35" y2="400" stroke="#1c1c1c" stroke-width="1.1"/>
<line x1="340.65" y1="429.8" x2="348.05" y2="429.8" stroke="#1c1c1c" stroke-width="1.1"/>
<line x1="344.35" y1="429.8" x2="344.35" y2="434" stroke="#1c1c1c" stroke-width="1.1"/>
<line x1="362.95" y1="393.6" x2="370.35" y2="393.6" stroke="#1c1c1c" stroke-width="1.1"/>
<line x1="366.65" y1="393.6" x2="366.65" y2="396.1" stroke="#1c1c1c" stroke-width="1.1"/>
<line x1="362.95" y1="396.1" x2="370.35" y2="396.1" stroke="#1c1c1c" stroke-width="1.1"/>
<line x1="366.65" y1="396.1" x2="366.65" y2="399.6" stroke="#1c1c1c" stroke-width="1.1"/>
<line x1="362.95" y1="429" x2="370.35" y2="429" stroke="#1c1c1c" stroke-width="1.1"/>
<line x1="366.65" y1="429" x2="366.65" y2="431.7" stroke="#1c1c1c" stroke-width="1.1"/>
<line x1="385.45" y1="394.7" x2="392.85" y2="394.7" stroke="#1c1c1c" stroke-width="1.1"/>
<line x1="385.45" y1="396.1" x2="392.85" y2="396.1" stroke="#1c1c1c" stroke-width="1.1"/>
<line x1="385.45" y1="413.7" x2="392.85" y2="413.7" stroke="#1c1c1c" stroke-width="1.1"/>
<line x1="389.15" y1="413.7" x2="389.15" y2="414.3" stroke="#1c1c1c" stroke-width="1.1"/>
<text x="289" y="387.2" font-size="7.45" text-anchor="middle" style="stroke-width:0.17px">p=.5290</text>
<line x1="277.6" y1="389.4" x2="300.3" y2="389.4" stroke="#1c1c1c" stroke-width="1.05"/>
<text x="331.5" y="376.5" font-size="7.45" text-anchor="middle" style="stroke-width:0.17px">p=.0284</text>
<line x1="320.8" y1="379.9" x2="342.2" y2="379.9" stroke="#1c1c1c" stroke-width="1.05"/>
<text x="342.5" y="365.8" font-size="7.45" text-anchor="middle" style="stroke-width:0.17px">p=.0082</text>
<line x1="321.7" y1="369.3" x2="363" y2="369.3" stroke="#1c1c1c" stroke-width="1.05"/>
<text x="378.2" y="365.8" font-size="7.45" text-anchor="middle" style="stroke-width:0.17px">p=.0027</text>
<line x1="367.4" y1="369.3" x2="388.9" y2="369.3" stroke="#1c1c1c" stroke-width="1.05"/>
<text x="368.7" y="376.5" font-size="7.45" text-anchor="middle" style="stroke-width:0.17px">p=.0010</text>
<line x1="347.3" y1="379.9" x2="389.8" y2="379.9" stroke="#1c1c1c" stroke-width="1.05"/>
<text x="355.2" y="386.1" font-size="7.45" text-anchor="middle" style="stroke-width:0.17px">p&lt;.0001</text>
<line x1="321.2" y1="389.2" x2="389.8" y2="389.2" stroke="#1c1c1c" stroke-width="1.05"/>
<text x="277.45" y="488.6" font-size="7" text-anchor="middle">−</text>
<text x="277.45" y="496.4" font-size="7" text-anchor="middle">+</text>
<text x="277.45" y="504.2" font-size="7" text-anchor="middle">−</text>
<text x="299.85" y="488.6" font-size="7" text-anchor="middle">−</text>
<text x="299.85" y="496.4" font-size="7" text-anchor="middle">−</text>
<text x="299.85" y="504.2" font-size="7" text-anchor="middle">+</text>
<text x="322.15" y="488.6" font-size="7" text-anchor="middle">+</text>
<text x="322.15" y="496.4" font-size="7" text-anchor="middle">−</text>
<text x="322.15" y="504.2" font-size="7" text-anchor="middle">−</text>
<text x="344.35" y="488.6" font-size="7" text-anchor="middle">+</text>
<text x="344.35" y="496.4" font-size="7" text-anchor="middle">+</text>
<text x="344.35" y="504.2" font-size="7" text-anchor="middle">−</text>
<text x="366.65" y="488.6" font-size="7" text-anchor="middle">+</text>
<text x="366.65" y="496.4" font-size="7" text-anchor="middle">−</text>
<text x="366.65" y="504.2" font-size="7" text-anchor="middle">+</text>
<text x="389.15" y="488.6" font-size="7" text-anchor="middle">+</text>
<text x="389.15" y="496.4" font-size="7" text-anchor="middle">+</text>
<text x="389.15" y="504.2" font-size="7" text-anchor="middle">+</text>
<text x="405.4" y="488.4" font-size="7.3" text-anchor="start">LPS</text>
<text x="405.4" y="496.3" font-size="7.3" text-anchor="start">Etanercept</text>
<text x="405.4" y="504.3" font-size="7.3" text-anchor="start">Anakinra</text>
<rect x="404.5" y="394.7" width="7.4" height="4" fill="#a990c1"/>
<rect x="404.5" y="402.6" width="7.4" height="4" fill="#e18495"/>
<polygon points="404.5,411.1 411.9,411.1 404.5,415.1" fill="#98d9a6"/>
<polygon points="411.9,411.1 411.9,415.1 404.5,415.1" fill="#86a6c4"/>
<text x="415" y="398.9" font-size="7.55" text-anchor="start" style="stroke-width:0.17px">SG<tspan font-size="4.8" dy="2.2" style="stroke-width:0.15px">2</tspan><tspan dy="-2.2" font-size="1"> </tspan>M</text>
<text x="415" y="406.7" font-size="7.55" text-anchor="start" style="stroke-width:0.17px">G<tspan font-size="4.8" dy="2.2" style="stroke-width:0.15px">1</tspan><tspan dy="-2.2" font-size="1"> </tspan></text>
<text x="415" y="415.1" font-size="7.55" text-anchor="start" style="stroke-width:0.17px">G<tspan font-size="4.8" dy="2.2" style="stroke-width:0.15px">0</tspan><tspan dy="-2.2" font-size="1"> </tspan></text>
</g>
</svg></body></html>
